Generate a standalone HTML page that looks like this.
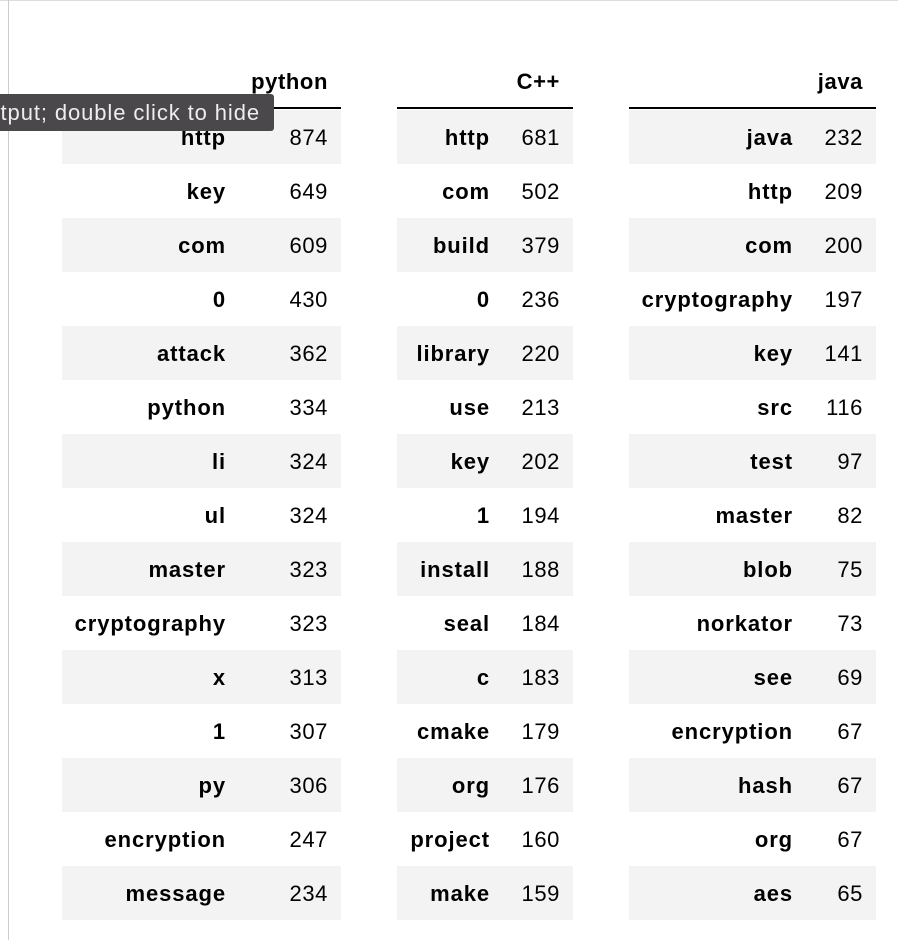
<!DOCTYPE html>
<html><head><style>
body{margin:0;width:898px;height:940px;background:#fff;position:relative;overflow:hidden;font-family:"Liberation Sans",Arial,sans-serif;font-size:22px;color:#000}
.h{position:absolute;top:69px;height:30px;font-weight:bold;text-align:right;letter-spacing:0.6px}
.hl{position:absolute;top:107px;height:2px;background:#000}
.r{position:absolute;height:54px;line-height:56px}
.s{background:#f3f3f3}
.k{position:absolute;top:0;font-weight:bold;text-align:right;letter-spacing:0.9px;white-space:nowrap}
.v{position:absolute;top:0;text-align:right;letter-spacing:0.6px}
</style></head><body>
<div style="position:absolute;left:0;top:0;width:898px;height:1px;background:#ddd"></div>
<div style="position:absolute;left:8px;top:0;width:1px;height:940px;background:#ccc"></div>
<div id="root"></div>
<script>
const T=[
{x:62,w:279,kc:164,h:"python",d:[["http",874],["key",649],["com",609],["0",430],["attack",362],["python",334],["li",324],["ul",324],["master",323],["cryptography",323],["x",313],["1",307],["py",306],["encryption",247],["message",234]]},
{x:397,w:176,kc:93,h:"C++",d:[["http",681],["com",502],["build",379],["0",236],["library",220],["use",213],["key",202],["1",194],["install",188],["seal",184],["c",183],["cmake",179],["org",176],["project",160],["make",159]]},
{x:629,w:247,kc:164,h:"java",d:[["java",232],["http",209],["com",200],["cryptography",197],["key",141],["src",116],["test",97],["master",82],["blob",75],["norkator",73],["see",69],["encryption",67],["hash",67],["org",67],["aes",65]]}];
let s="";
for(const t of T){
s+=`<div class="h" style="left:${t.x}px;width:${t.w-13}px">${t.h}</div>`;
s+=`<div class="hl" style="left:${t.x}px;width:${t.w}px"></div>`;
t.d.forEach((r,i)=>{
s+=`<div class="r${i%2==0?' s':''}" style="left:${t.x}px;width:${t.w}px;top:${110+i*54}px"><div class="k" style="left:0;width:${t.kc}px">${r[0]}</div><div class="v" style="left:${t.kc}px;width:${t.w-t.kc-13}px">${r[1]}</div></div>`;
});}
document.getElementById("root").innerHTML=s;
</script>
<div style="position:absolute;left:0;top:94px;width:274px;height:37px;background:#4a484b;border-radius:0 3px 3px 0;color:#eee;font-size:22px;letter-spacing:0.9px;line-height:37px;white-space:nowrap;overflow:hidden"><span style="position:absolute;right:14px">tput; double click to hide</span></div>
</body></html>
